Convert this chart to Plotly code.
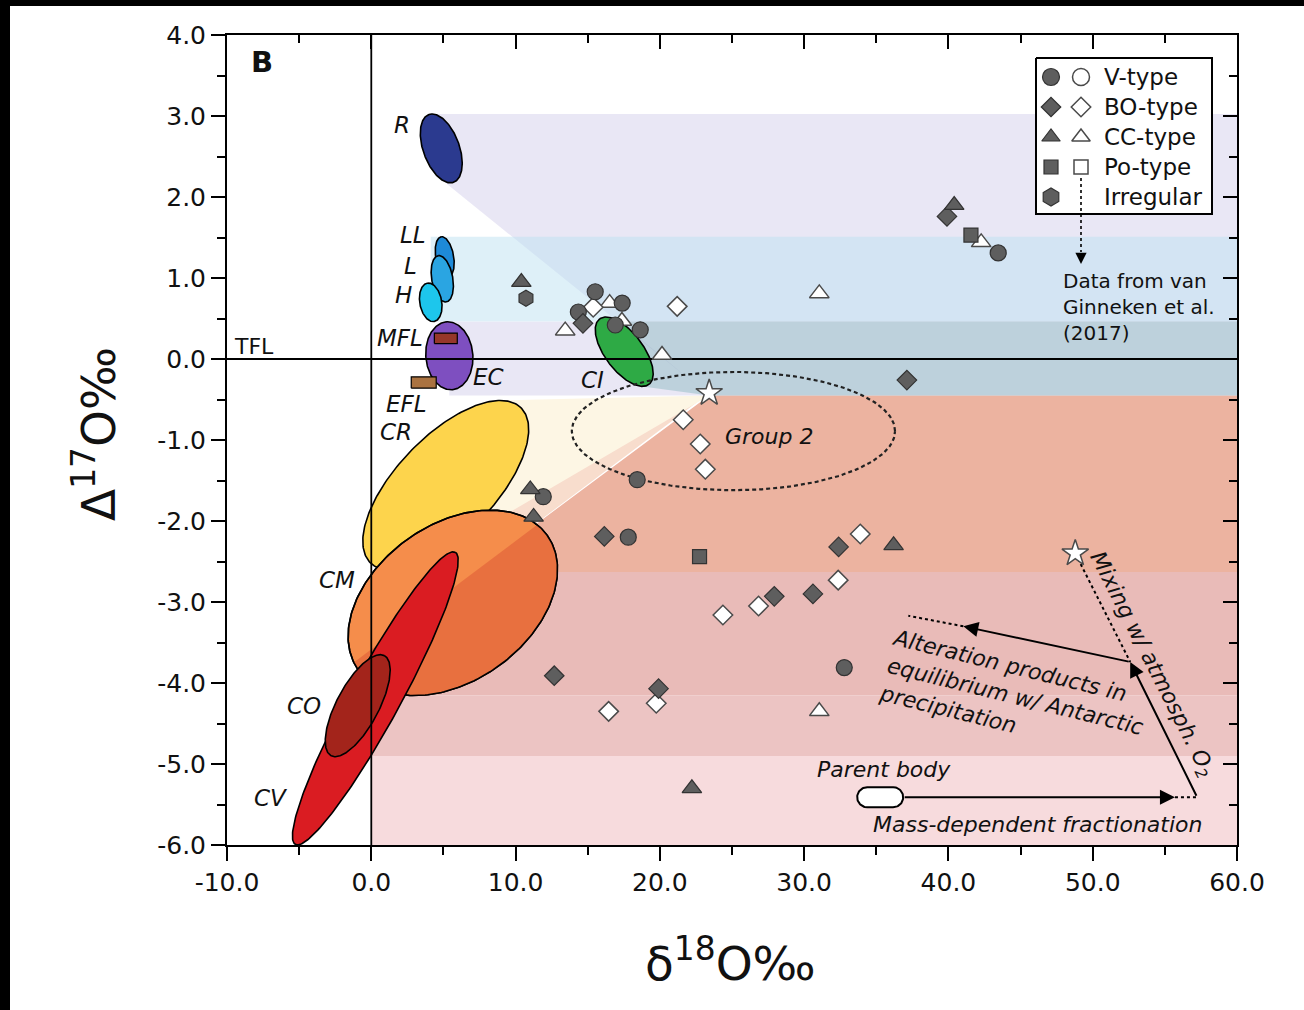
import numpy as np
import plotly.graph_objects as go

# ---------------- particle data (delta18O, Delta17O, permil) ----------------
v_type_x = [15.52, 17.39, 14.35, 18.64, 16.91, 18.43, 11.92, 17.81, 32.78, 43.45]
v_type_y = [0.83, 0.69, 0.58, 0.36, 0.42, -1.49, -1.70, -2.20, -3.81, 1.31]

bo_type_x = [14.67, 39.90, 37.12, 16.15, 32.39, 27.93, 30.61, 12.68, 19.91]
bo_type_y = [0.44, 1.76, -0.26, -2.19, -2.32, -2.93, -2.90, -3.91, -4.07]

bo_open_x = [15.38, 21.20, 21.62, 22.80, 23.15, 33.89, 32.36, 26.84, 24.37, 16.45, 19.75]
bo_open_y = [0.64, 0.65, -0.75, -1.05, -1.36, -2.16, -2.73, -3.05, -3.16, -4.35, -4.25]

cc_type_x = [10.40, 40.40, 11.02, 11.25, 36.20, 22.22]
cc_type_y = [0.95, 1.90, -1.61, -1.95, -2.30, -5.30]

cc_open_x = [13.44, 16.52, 17.37, 20.15, 31.05, 42.27, 31.05]
cc_open_y = [0.35, 0.69, 0.47, 0.05, 0.81, 1.44, -4.35]

po_type_x = [41.56, 22.75]
po_type_y = [1.53, -2.44]

irregular_x = [10.72]
irregular_y = [0.75]

# end-member stars: mixing apex and atmospheric-O2 end member
star_x = [23.42, 48.79]
star_y = [-0.42, -2.40]

# ---------------- meteorite group fields (ellipses) ----------------
# semi-axes in delta18O-equivalent permil (isotropic on screen), angle in degrees
field_names = ["R", "LL", "L", "H", "EC", "CI", "CR", "CM", "CV", "CO"]
field_cx = [4.85, 5.09, 4.92, 4.12, 5.41, 17.53, 5.16, 5.65, 0.28, -0.94]
field_cy = [2.60, 1.26, 0.99, 0.70, 0.04, 0.09, -1.56, -3.01, -4.19, -4.28]
field_a = [2.50, 1.42, 1.63, 1.35, 2.36, 2.84, 7.49, 8.04, 11.54, 3.93]
field_b = [1.25, 0.62, 0.73, 0.76, 1.63, 1.32, 3.40, 5.41, 1.73, 1.46]
field_angle = [110, 100, 100, 100, 95, 127, 46, 35.6, 61.3, 62]

# fractionation line boxes (x0, x1, y0, y1)
mfl_box = [4.37, 5.96, 0.19, 0.32]
efl_box = [2.77, 4.50, -0.36, -0.22]

# Group 2 field
group2_center = [25.1, -0.89]
group2_semi = [11.2, 0.73]

# Delta17O bands
split_level = -0.45          # boundary between 16O-poor and 16O-rich domains
lower_bands = [(-2.63, -4.15), (-4.15, -4.90), (-4.90, -6.00)]
cv_edge_point = [4.99, -2.89]

# process arrows
parent_body = [35.27, -5.41]
mdf_end = [55.70, -5.41]
corner = [57.24, -5.41]
junction = [52.60, -3.74]
alteration_end = [41.03, -3.30]
alteration_dotted_end = [37.22, -3.17]

x_ticks = [-10, 0, 10, 20, 30, 40, 50, 60]
x_ticktext = ["-10.0", "0.0", "10.0", "20.0", "30.0", "40.0", "50.0", "60.0"]
y_ticks = [4, 3, 2, 1, 0, -1, -2, -3, -4, -5, -6]
y_ticktext = ["4.0", "3.0", "2.0", "1.0", "0.0", "-1.0", "-2.0", "-3.0", "-4.0", "-5.0", "-6.0"]

# ---------------- geometry helpers ----------------
W, H = 1304, 1010
ML, MR, MT, MB = 227, 67, 35, 165
XR = [-10, 60]
YR = [-6, 4]
PX_X = (W - ML - MR) / (XR[1] - XR[0])
PX_Y = (H - MT - MB) / (YR[1] - YR[0])
FONT = "DejaVu Sans"


def pxd(u, v):
    """page pixel -> data coordinates"""
    return XR[0] + (u - ML) / PX_X, YR[1] - (v - MT) / PX_Y


def ellipse(cx, cy, a, b, ang, n=240):
    t = np.linspace(0, 2 * np.pi, n)
    a_px, b_px = a * PX_X, b * PX_X
    th = np.radians(ang)
    u = a_px * np.cos(t)
    v = b_px * np.sin(t)
    xu = u * np.cos(th) - v * np.sin(th)
    yv = u * np.sin(th) + v * np.cos(th)
    return cx + xu / PX_X, cy + yv / PX_Y


def tangents(sx, sy, ex, ey, cx, cy):
    su, sv = sx * PX_X, sy * PX_Y
    ru, rv = ex * PX_X - su, ey * PX_Y - sv
    du, dv = cx * PX_X - su, cy * PX_Y - sv
    ang = np.arctan2(du * rv - dv * ru, du * ru + dv * rv)
    i1, i2 = int(np.argmax(ang)), int(np.argmin(ang))
    p = [(ex[i1], ey[i1]), (ex[i2], ey[i2])]
    p.sort(key=lambda q: -q[1])
    return p  # upper, lower


def x_on_line(p, q, yv):
    return p[0] + (yv - p[1]) * (q[0] - p[0]) / (q[1] - p[1])


fig = go.Figure()


def poly(xs, ys, fill, line="rgba(0,0,0,0)", lw=0, dash=None):
    xs, ys = list(xs), list(ys)
    fig.add_trace(go.Scatter(
        x=xs + [xs[0]], y=ys + [ys[0]], mode="lines", fill="toself",
        fillcolor=fill, line=dict(color=line, width=lw, dash=dash),
        hoverinfo="skip", showlegend=False))


def line(xs, ys, color="black", width=2, dash=None):
    fig.add_trace(go.Scatter(x=xs, y=ys, mode="lines",
                             line=dict(color=color, width=width, dash=dash),
                             hoverinfo="skip", showlegend=False))


fields = {}
for i, nm in enumerate(field_names):
    ex, ey = ellipse(field_cx[i], field_cy[i], field_a[i], field_b[i], field_angle[i])
    fields[nm] = (ex, ey, field_cx[i], field_cy[i])

S = (star_x[0], star_y[0])

# ---------------- background bands and mixing fans ----------------
for (y0, y1), col in zip(lower_bands, ["#E9BBB8", "#ECC4C3", "#F7DBDD"]):
    poly([0, XR[1], XR[1], 0], [y0, y0, y1, y1], col)

# CV/CO fan + 16O-rich band
cv_cut_x = x_on_line(cv_edge_point, S, lower_bands[0][0])
poly([cv_cut_x, cv_edge_point[0], S[0], XR[1], XR[1]],
     [lower_bands[0][0], cv_edge_point[1], split_level, split_level, lower_bands[0][0]],
     "#ECB3A0")

# CM fan
ex, ey, cx, cy = fields["CM"]
cm_up, _ = tangents(S[0], S[1], ex, ey, cx, cy)
poly([S[0], cm_up[0], cv_edge_point[0]], [S[1], cm_up[1], cv_edge_point[1]], "#F8DDCD")

# CR fan
ex, ey, cx, cy = fields["CR"]
cr_up, cr_lo = tangents(S[0], S[1], ex, ey, cx, cy)
poly([S[0], cr_up[0], cr_lo[0]], [split_level, cr_up[1], cr_lo[1]], "#FDF6E4")

# R fan and band
ex, ey, cx, cy = fields["R"]
r_up, r_lo = tangents(S[0], S[1], ex, ey, cx, cy)
itop = int(np.argmax(ey))
r_top = (ex[itop], ey[itop])
poly([r_top[0], XR[1], XR[1], S[0], r_lo[0]],
     [r_top[1], r_top[1], split_level, split_level, r_lo[1]],
     "rgba(200,195,230,0.40)")

# ordinary chondrite band
oc_top = float(np.max(fields["LL"][1]))
oc_bot = float(np.min(fields["H"][1]))
oc_x0 = min(field_cx[1:4])
poly([oc_x0, XR[1], XR[1], oc_x0], [oc_top, oc_top, oc_bot, oc_bot],
     "rgba(190,226,242,0.50)")

# EC fan
ex, ey, cx, cy = fields["EC"]
ec_top = (cx, float(np.max(ey)))
ec_bot = (cx, float(np.min(ey)))
poly([ec_top[0], x_on_line(r_lo, S, ec_top[1]), S[0], ec_bot[0]],
     [ec_top[1], ec_top[1], split_level, split_level],
     "rgba(200,195,230,0.40)")

# CI band
ex, ey, cx, cy = fields["CI"]
ci_top_x = ex[int(np.argmax(ey))]
ci_low = (ex[int(np.argmin(ey))], float(np.min(ey)))
poly([ci_top_x, XR[1], XR[1], S[0], ci_low[0]],
     [oc_bot, oc_bot, split_level, split_level, ci_low[1]],
     "rgba(110,170,175,0.35)")

# ---------------- meteorite fields ----------------
field_colors = {"R": "#2B3A8F", "LL": "#1E8AD8", "L": "#2AA5E2", "H": "#1DC6EC",
                "EC": "#7E4FC0", "CI": "#2EAA45", "CR": "#FDD44C", "CM": "#F58D4B",
                "CV": "#DA1C22", "CO": "#A3241B"}


def draw_field(nm):
    ex, ey, _, _ = fields[nm]
    poly(ex[:-1], ey[:-1], field_colors[nm], "black", 1.6)


for nm in ["R", "LL", "L", "H", "EC"]:
    draw_field(nm)
for box, col in [(mfl_box, "#96372A"), (efl_box, "#AA7341")]:
    poly([box[0], box[1], box[1], box[0]], [box[2], box[2], box[3], box[3]], col, "black", 1.2)
draw_field("CI")
draw_field("CR")
draw_field("CM")

# part of CM field overlapped by the CV/CO fan
ex, ey, _, _ = fields["CM"]
ex, ey = ex[:-1], ey[:-1]
pu, pv = cv_edge_point[0] * PX_X, cv_edge_point[1] * PX_Y
qu, qv = S[0] * PX_X - pu, S[1] * PX_Y - pv
cross = qu * (ey * PX_Y - pv) - qv * (ex * PX_X - pu)
mask = cross < 0
start = int(np.where(mask & ~np.roll(mask, 1))[0][0])
ex_r, ey_r, m_r = np.roll(ex, -start), np.roll(ey, -start), np.roll(mask, -start)
n_in = int(np.argmin(m_r)) if not m_r.all() else len(m_r)
poly(ex_r[:n_in], ey_r[:n_in], "#E8703F")
# redraw CM outline on top of the shaded part
line(list(ex) + [ex[0]], list(ey) + [ey[0]], "black", 1.6)

draw_field("CV")
draw_field("CO")

# Group 2 field
g2x, g2y = ellipse(group2_center[0], group2_center[1], group2_semi[0],
                   group2_semi[1] * PX_Y / PX_X, 0)
line(g2x, g2y, "#222", 2.2, "4px,3px")

# reference lines: TFL and delta18O = 0
line(XR, [0, 0], "black", 1.8)
line([0, 0], YR, "black", 1.8)

# ---------------- process arrows ----------------
line([mdf_end[0], corner[0]], [mdf_end[1], corner[1]], "black", 2, "dot")
line([alteration_end[0], alteration_dotted_end[0]],
     [alteration_end[1], alteration_dotted_end[1]], "black", 2, "dot")
line([star_x[1], junction[0]], [star_y[1], junction[1]], "black", 2, "dot")

# parent body capsule
t1 = np.linspace(-np.pi / 2, np.pi / 2, 40)
t2 = np.linspace(np.pi / 2, 3 * np.pi / 2, 40)
half, rad = 13.0, 10.0
cu = np.concatenate([half + rad * np.cos(t1), -half + rad * np.cos(t2)])
cvv = np.concatenate([rad * np.sin(t1), rad * np.sin(t2)])
poly(parent_body[0] + cu / PX_X, parent_body[1] + cvv / PX_Y, "white", "black", 2)

# ---------------- particles ----------------
DARK = "#5E5E5E"
EDGE = "#333333"


def markers(xs, ys, symbol, size, filled=True):
    fig.add_trace(go.Scatter(
        x=xs, y=ys, mode="markers", hoverinfo="skip", showlegend=False,
        marker=dict(symbol=symbol, size=size,
                    color=DARK if filled else "white",
                    line=dict(color=EDGE if filled else "#4A4A4A", width=1.2 if filled else 1.5))))


markers(cc_open_x, cc_open_y, "triangle-up", 17, False)
markers(bo_open_x, bo_open_y, "diamond", 15, False)
markers(v_type_x, v_type_y, "circle", 16)
markers(bo_type_x, bo_type_y, "diamond", 15)
markers(cc_type_x, cc_type_y, "triangle-up", 17)
markers(po_type_x, po_type_y, "square", 14)
markers(irregular_x, irregular_y, "hexagon", 16)
markers(star_x, star_y, "star", 20, False)

# ---------------- legend (filled / open symbols) ----------------
bx0, by0 = pxd(1036, 58)
bx1, by1 = pxd(1212, 214)
poly([bx0, bx1, bx1, bx0], [by0, by0, by1, by1], "white", "black", 2)
legend_rows = [("circle", True, "V-type"), ("diamond", True, "BO-type"),
               ("triangle-up", True, "CC-type"), ("square", True, "Po-type"),
               ("hexagon", False, "Irregular")]
legend_sizes = {"circle": 17, "diamond": 15, "triangle-up": 16, "square": 14, "hexagon": 18}
annotations = []
for k, (sym, has_open, label) in enumerate(legend_rows):
    py = 77 + 30 * k
    fx, fy = pxd(1051, py)
    markers([fx], [fy], sym, legend_sizes[sym])
    if has_open:
        ox, oy = pxd(1081, py)
        markers([ox], [oy], sym, legend_sizes[sym], False)
    tx, ty = pxd(1102, py)
    annotations.append(dict(x=tx, y=ty, xref="x", yref="y", text=label, showarrow=False,
                            xanchor="left", yanchor="middle",
                            font=dict(family=FONT, size=23, color="#111")))

# dotted pointer from the legend to the source note
lx, ly0 = pxd(1081, 178)
_, ly1 = pxd(1081, 252)
line([lx, lx], [ly0, ly1], "black", 1.6, "dot")
_, ltip = pxd(1081, 264)
annotations.append(dict(x=lx, y=ltip, ax=lx, ay=ly1, xref="x", yref="y", axref="x", ayref="y",
                        text="", showarrow=True, arrowhead=2, arrowsize=1.4, arrowwidth=1.6,
                        arrowcolor="black", standoff=0, startstandoff=0))

# solid process arrows
for tail, head in [((parent_body[0] + (half + rad) / PX_X, parent_body[1]), mdf_end),
                   (corner, junction), (junction, alteration_end)]:
    annotations.append(dict(x=head[0], y=head[1], ax=tail[0], ay=tail[1],
                            xref="x", yref="y", axref="x", ayref="y", text="",
                            showarrow=True, arrowhead=2, arrowsize=1.5, arrowwidth=2,
                            arrowcolor="black", standoff=0, startstandoff=0))

# ---------------- labels ----------------
def label(x, y, text, size=23, italic=True, angle=0, anchor="center", align="center"):
    annotations.append(dict(x=x, y=y, xref="x", yref="y",
                            text=f"<i>{text}</i>" if italic else text,
                            showarrow=False, textangle=angle, xanchor=anchor, yanchor="middle",
                            align=align, font=dict(family=FONT, size=size, color="#111")))


label(2.15, 2.89, "R")
label(2.91, 1.53, "LL")
label(2.70, 1.15, "L")
label(2.22, 0.79, "H")
label(2.00, 0.26, "MFL")
label(8.11, -0.22, "EC")
label(2.43, -0.56, "EFL")
label(1.73, -0.90, "CR")
label(15.32, -0.26, "CI")
label(-2.36, -2.73, "CM")
label(-4.64, -4.28, "CO")
label(-6.93, -5.42, "CV")
label(-8.13, 0.16, "TFL", italic=False, size=22)
label(-7.57, 3.67, "<b>B</b>", italic=False, size=29)
label(27.58, -0.96, "Group 2", size=22)
label(35.55, -5.07, "Parent body", size=22)
label(46.15, -5.75, "Mass-dependent fractionation", size=22)
label(44.55, -4.16, "Alteration products in<br>equilibrium w/ Antarctic<br>precipitation",
      size=22, angle=13.8, align="left")
label(54.06, -3.77, "Mixing w/ atmosph. O<sub>2</sub>", size=22, angle=63)
dx, dy = pxd(1061, 307)
label(dx, dy, "Data from van<br>Ginneken et al.<br>(2017)", italic=False, size=20,
      anchor="left", align="left")

# axis titles
annotations.append(dict(x=(95 - ML) / (W - ML - MR), y=(H - MB - 434) / (H - MT - MB),
                        xref="paper", yref="paper", text="Δ<sup>17</sup>O‰", showarrow=False,
                        xanchor="center", yanchor="middle",
                        textangle=-90, font=dict(family=FONT, size=47, color="#111")))
annotations.append(dict(x=(730 - ML) / (W - ML - MR), y=(H - MB - 960) / (H - MT - MB),
                        xref="paper", yref="paper", text="δ<sup>18</sup>O‰", showarrow=False,
                        xanchor="center", yanchor="middle",
                        font=dict(family=FONT, size=47, color="#111")))

# overlay axes carrying the inward ticks on top and right
fig.add_trace(go.Scatter(x=[None], y=[None], xaxis="x2", yaxis="y2", showlegend=False))

tickfont = dict(family=FONT, size=25, color="#111")
fig.update_layout(
    width=W, height=H,
    margin=dict(l=ML, r=MR, t=MT, b=MB, pad=0),
    paper_bgcolor="white", plot_bgcolor="white",
    showlegend=False,
    annotations=annotations,
    xaxis=dict(range=XR, tickmode="array", tickvals=x_ticks, ticktext=x_ticktext,
               ticks="outside", ticklen=14, tickwidth=2, tickcolor="black",
               showline=True, linecolor="black", linewidth=2, mirror=True,
               showgrid=False, zeroline=False, tickfont=tickfont,
               minor=dict(ticks="outside", ticklen=8, tickwidth=2, tickcolor="black",
                          tick0=5, dtick=10, showgrid=False)),
    yaxis=dict(range=YR, tickmode="array", tickvals=y_ticks, ticktext=y_ticktext,
               ticks="outside", ticklen=14, tickwidth=2, tickcolor="black",
               showline=True, linecolor="black", linewidth=2, mirror=True,
               showgrid=False, zeroline=False, tickfont=tickfont,
               minor=dict(ticks="outside", ticklen=8, tickwidth=2, tickcolor="black",
                          tick0=0.5, dtick=1, showgrid=False)),
    xaxis2=dict(range=XR, overlaying="x", side="top", tickmode="array", tickvals=x_ticks,
                ticks="inside", ticklen=14, tickwidth=2, tickcolor="black",
                showticklabels=False, showline=False, showgrid=False, zeroline=False,
                minor=dict(ticks="inside", ticklen=8, tickwidth=2, tickcolor="black",
                           tick0=5, dtick=10, showgrid=False)),
    yaxis2=dict(range=YR, overlaying="y", side="right", anchor="x2", tickmode="array",
                tickvals=y_ticks, ticks="inside", ticklen=14, tickwidth=2, tickcolor="black",
                showticklabels=False, showline=False, showgrid=False, zeroline=False,
                minor=dict(ticks="inside", ticklen=8, tickwidth=2, tickcolor="black",
                           tick0=0.5, dtick=1, showgrid=False)),
    shapes=[
        dict(type="rect", xref="paper", yref="paper", layer="above",
             x0=-ML / (W - ML - MR), x1=(10 - ML) / (W - ML - MR), y0=-MB / (H - MT - MB),
             y1=(H - MB) / (H - MT - MB), fillcolor="black", line=dict(width=0)),
        dict(type="rect", xref="paper", yref="paper", layer="above",
             x0=-ML / (W - ML - MR), x1=(W - ML) / (W - ML - MR),
             y0=(H - MB - 6) / (H - MT - MB), y1=(H - MB) / (H - MT - MB),
             fillcolor="black", line=dict(width=0)),
    ],
)

fig.write_html("out.html")
